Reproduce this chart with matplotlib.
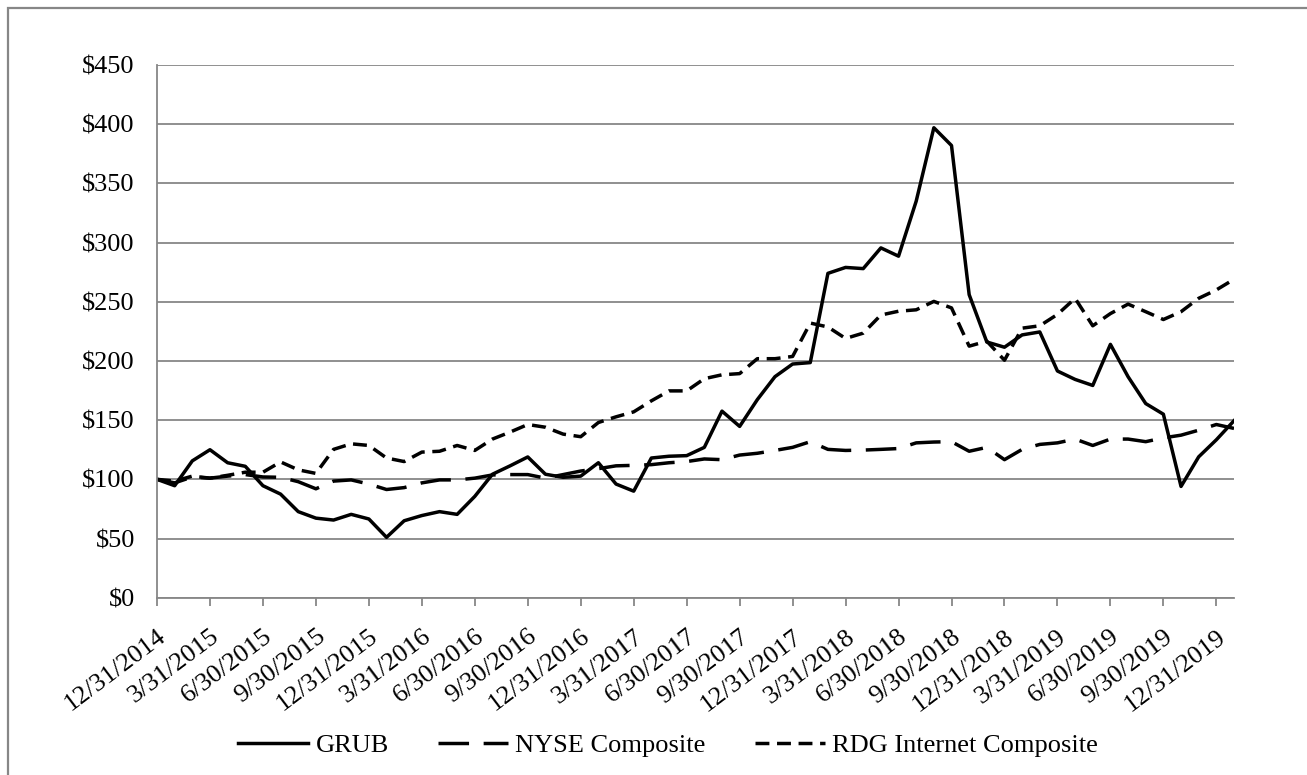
import numpy as np
import matplotlib
matplotlib.use("Agg")
import matplotlib.pyplot as plt
from matplotlib.patches import Rectangle

plt.rcParams['font.family'] = ['Liberation Serif', 'DejaVu Serif']

# monthly values, 12/31/2014 .. 1/31/2020
grub = [100, 94.6, 115.6, 125, 114, 111, 94.6, 87.5, 72.7, 67.2,
        65.6, 70.4, 66.5, 51, 65, 69.4, 72.7, 70.4, 85.6, 104.3,
        111.4, 118.9, 104.3, 101.7, 102.7, 114, 96, 90, 118, 119.5,
        120, 127, 157.6, 144.7, 167.3, 186.7, 197.4, 198.6, 274, 279,
        278, 295.5, 288.5, 335, 397, 382, 256, 216, 211.6, 222,
        224.5, 191.5, 184.4, 179.3, 214, 186.7, 164, 155, 94, 119,
        133.4, 149.5]
nyse = [100, 97, 102, 101, 102.7, 104, 102, 101.7, 98, 92,
        98.5, 99.5, 96, 91.4, 93, 97, 99.5, 99.5, 101, 103.7,
        104, 104, 101, 104, 107, 109, 111.4, 111.8, 112.4, 114,
        115, 117.2, 116.6, 120.5, 122, 124.4, 127, 131.8, 125.3, 124.4,
        124.7, 125.3, 126, 130.8, 131.5, 131.8, 123.7, 127, 116.6, 125.3,
        129.5, 130.8, 134, 128.6, 134, 134, 131.8, 135, 137.3, 141.5,
        146.3, 143]
rdg = [100, 98.5, 102.7, 101, 103.4, 106, 106, 114.7, 108, 105,
       125.3, 130, 128.6, 118, 115, 123, 123.7, 128.6, 124.4, 134,
       139.9, 146.3, 144, 138.2, 136, 148, 152.8, 157, 166.3, 174.7,
       174.7, 185, 188.3, 189.3, 201.9, 201.9, 203.8, 232, 228.7, 219,
       223.5, 238.8, 242, 243.2, 250.3, 244.8, 212.5, 216.7, 200.6, 227.7,
       229.7, 239.3, 252.9, 229.7, 240, 248, 241.6, 235, 241.6, 252.9,
       260, 269]

tick_labels = ["12/31/2014", "3/31/2015", "6/30/2015", "9/30/2015",
               "12/31/2015", "3/31/2016", "6/30/2016", "9/30/2016",
               "12/31/2016", "3/31/2017", "6/30/2017", "9/30/2017",
               "12/31/2017", "3/31/2018", "6/30/2018", "9/30/2018",
               "12/31/2018", "3/31/2019", "6/30/2019", "9/30/2019",
               "12/31/2019"]

x = np.arange(len(grub))
gray = '#878787'

fig = plt.figure(figsize=(13.07, 7.75), dpi=100)
ax = fig.add_axes([157/1307, 1 - 597.7/775, (1234-157)/1307, (597.7-65)/775])

# outer frame (only top and left visible in the picture)
fig.patches.append(Rectangle((8/1307, -0.05), 1.1, 1 - 8/775 + 0.05,
                             transform=fig.transFigure, fill=False,
                             edgecolor=gray, linewidth=1.6))

ax.plot(x, grub, color='black', lw=2.5, label='GRUB')
ax.plot(x, nyse, color='black', lw=2.5, dashes=(8.8, 4.2), label='NYSE Composite')
ax.plot(x, rdg, color='black', lw=2.5, dashes=(4.0, 2.2), label='RDG Internet Composite')

ax.set_xlim(0, len(grub) - 1)
ax.set_ylim(0, 450)
ax.set_yticks(np.arange(0, 451, 50))
ax.set_yticklabels(['$%d' % v for v in range(0, 451, 50)])
ax.yaxis.grid(True, color=gray, lw=1.3)
ax.set_axisbelow(True)

ax.set_xticks(np.arange(0, len(grub), 3))
ax.set_xticklabels(tick_labels, rotation=37, ha='right', rotation_mode='anchor')

for s in ['top', 'right']:
    ax.spines[s].set_visible(False)
ax.spines['left'].set_color(gray)
ax.spines['bottom'].set_color(gray)
ax.spines['left'].set_linewidth(1.3)
ax.spines['bottom'].set_linewidth(1.3)

ax.tick_params(axis='y', length=0, pad=16, labelsize=19)
ax.tick_params(axis='x', length=6, width=1.3, color=gray, direction='out', pad=14, labelsize=19)

fig.legend(loc='center', bbox_to_anchor=(668/1307, 1 - 745/775), ncol=3,
           frameon=False, fontsize=19, handlelength=2.65, handletextpad=0.3,
           columnspacing=1.85)

fig.savefig('out.png', dpi=100)
